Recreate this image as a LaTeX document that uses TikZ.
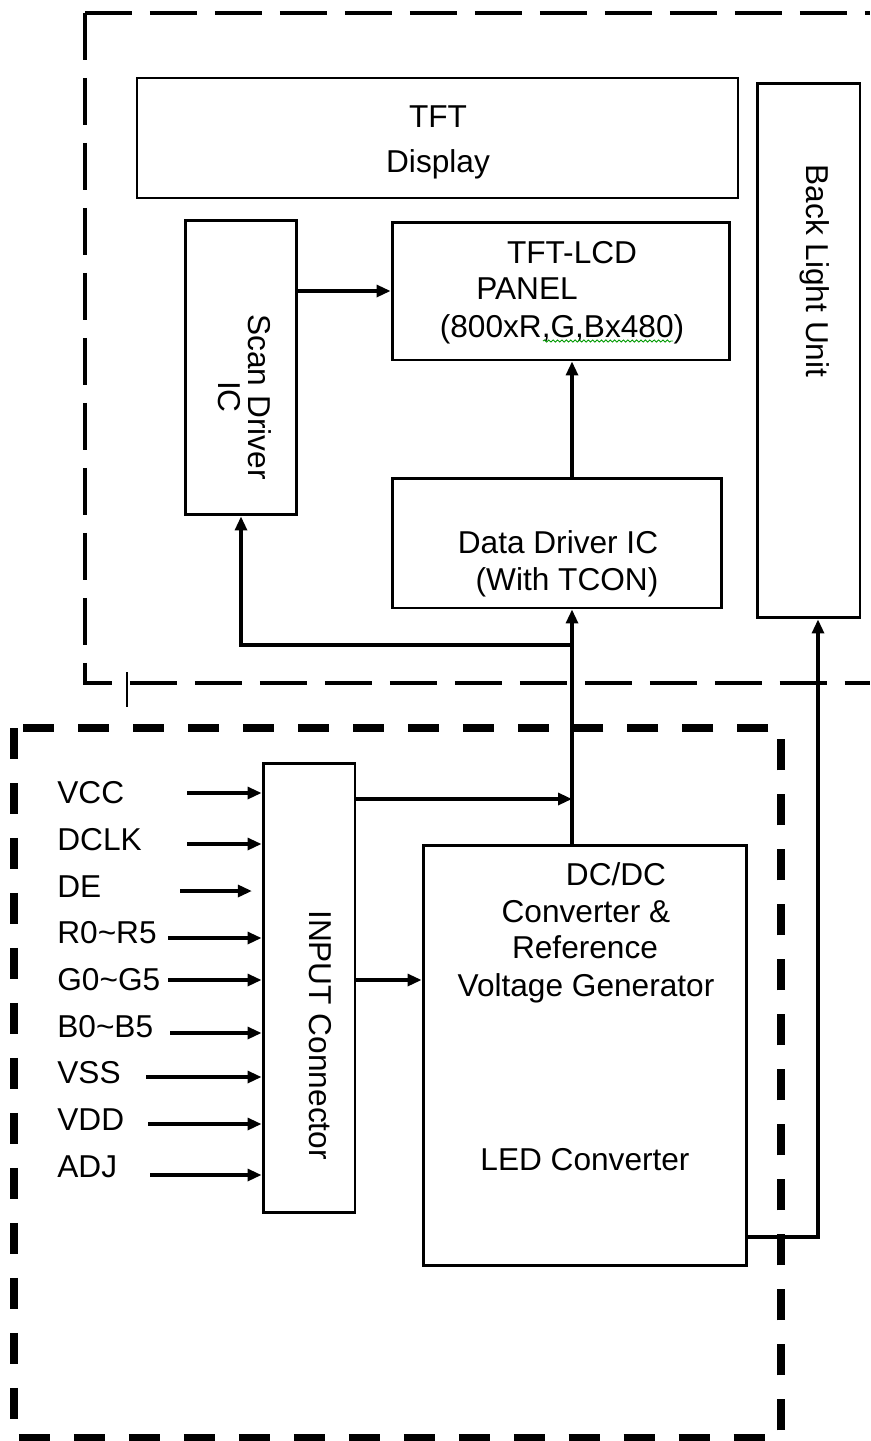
\documentclass[tikz,border=0pt]{standalone}
\usepackage{fontspec}
\setmainfont{Liberation Sans}
\usetikzlibrary{arrows.meta,decorations.pathmorphing}

\tikzset{
  blk/.style={draw,line width=1.7pt,inner sep=0pt},
  txt/.style={font=\fontsize{18}{21}\selectfont,inner sep=0pt},
  lbl/.style={txt,anchor=base},
  arr/.style={-{Triangle[length=0.28cm,width=0.24cm]},line width=1.8pt},
  frame/.style={line width=2.8pt,dash pattern=on 0.94cm off 0.36cm},
}

\begin{document}
\begin{tikzpicture}[x=0.02cm,y=-0.02cm]
\useasboundingbox (0,0) rectangle (870,1441);
% dashed frames
\draw[frame] (85,13) -- (870,13);
\draw[frame] (85,13) -- (85,683) -- (870,683);
\draw[line width=1.1pt] (127,672) -- (127,707);
\draw[line width=4.5pt,dash pattern=on 0.62cm off 0.48cm] (14,728) rectangle (781,1438);

% blocks
\node[blk,line width=1.1pt,minimum width=12.02cm,minimum height=2.4cm] (disp) at (437.5,138) {};
\node[blk,minimum width=2.06cm,minimum height=10.7cm] (blu) at (808.5,350.5) {};
\node[blk,minimum width=2.24cm,minimum height=5.9cm] (scan) at (241,367.5) {};
\node[blk,minimum width=6.76cm,minimum height=2.76cm] (panel) at (561,291) {};
\node[blk,minimum width=6.6cm,minimum height=2.6cm] (data) at (557,543) {};
\node[blk,minimum width=1.84cm,minimum height=9cm] (input) at (309,988) {};
\node[blk,minimum width=6.48cm,minimum height=8.42cm] (dcdc) at (585,1055.5) {};

% texts
\node[lbl] (disp-1) at (438,127) {TFT};
\node[lbl] (disp-2) at (438,172) {Display};
\node[txt,rotate=-90] (blu-t) at (815,271) {Back Light Unit};
\node[txt,rotate=-90,align=center,font=\fontsize{18}{17}\selectfont] (scan-t) at (245,397) {Scan Driver\\IC};
\node[lbl] (panel-1) at (572,263) {TFT-LCD};
\node[lbl] (panel-2) at (527,299) {PANEL};
\node[lbl] (panel-3) at (562,337) {(800xR,G,Bx480)};
\draw[green!60!black,line width=0.5pt,decorate,decoration={snake,amplitude=0.6pt,segment length=2.5pt}] (543,341) -- (673,341);
\node[lbl] (data-1) at (558,553) {Data Driver IC};
\node[lbl] (data-2) at (567,590) {(With TCON)};
\node[txt,rotate=-90] (input-t) at (320,1035) {INPUT Connector};
\node[lbl] (dcdc-1) at (616,885) {DC/DC};
\node[lbl] (dcdc-2) at (586,922) {Converter \&};
\node[lbl] (dcdc-3) at (585,958) {Reference};
\node[lbl] (dcdc-4) at (586,996) {Voltage Generator};
\node[lbl] (dcdc-5) at (585,1170) {LED Converter};

% input signals
\foreach \n/\t/\b/\s/\a/\e in {vcc/VCC/803/187/793/0pt, dclk/DCLK/850/187/844/0pt,
    de/DE/897/180/891/5.5pt, r/R0\textasciitilde R5/943/168/938/0pt,
    g/G0\textasciitilde G5/990/168/980/0pt, b/B0\textasciitilde B5/1037/170/1033/0pt,
    vss/VSS/1083/146/1077/0pt, vdd/VDD/1130/148/1124/0pt, adj/ADJ/1177/150/1175/0pt}{
  \node[lbl,anchor=base west] (\n) at (57,\b) {\t};
  \coordinate (\n-in) at (\s,\a);
  \draw[arr,shorten >=\e] (\n-in) -- (input.west |- \n-in);
}

% connections
\coordinate (bus) at (572,645);
\coordinate (vcc-bus) at (572,799);
\coordinate (ctl) at (423,980);
\coordinate (led) at (818,1237);
\draw[arr] (scan.east |- panel.west) -- (panel.west);
\draw[arr] (data.north -| bus) -- (panel.south -| bus);
\draw[arr] (dcdc.north -| bus) -- (data.south -| bus);
\draw[arr] (bus) -| (scan.south);
\draw[arr] (input.east |- vcc-bus) -- (vcc-bus);
\draw[arr] (input.east |- ctl) -- (dcdc.west |- ctl);
\draw[arr] (dcdc.east |- led) -- (led) -- (blu.south -| led);
\end{tikzpicture}
\end{document}
